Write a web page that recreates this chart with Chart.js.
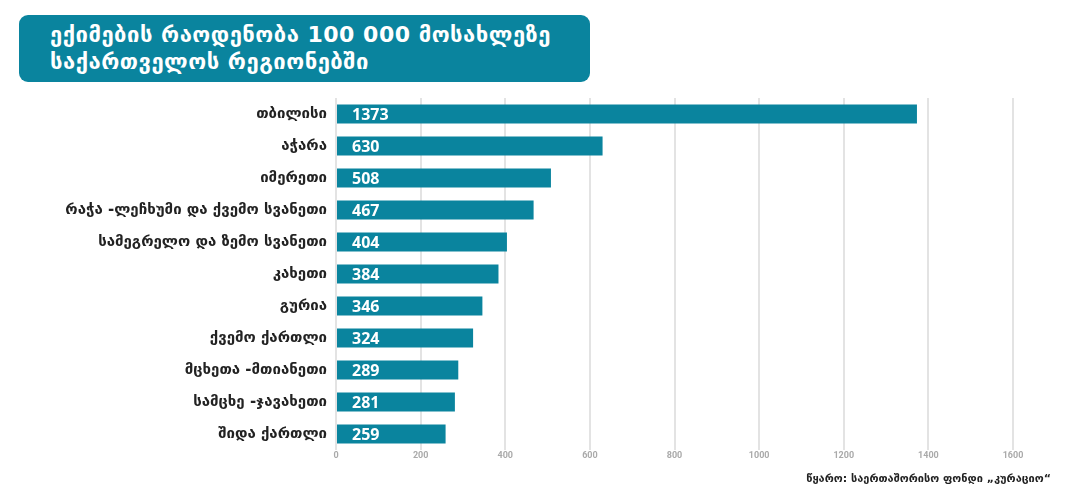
<!DOCTYPE html>
<html>
<head>
<meta charset="utf-8">
<script src="https://cdn.jsdelivr.net/npm/chart.js@4"></script>
<style>
  html, body { margin: 0; padding: 0; background: #fff; }
  #wrap { position: relative; width: 1067px; height: 500px; }
  #title {
    position: absolute; left: 19px; top: 15px; width: 571px; height: 67px;
    background: #0a849e; border-radius: 9px; color: #fff;
    font-family: "DejaVu Sans", sans-serif; font-weight: bold; font-size: 22px;
    line-height: 27px; padding: 6px 0 0 31px; box-sizing: border-box; letter-spacing: 0.5px;
  }
  #source {
    position: absolute; right: 16px; top: 472px;
    font-family: "DejaVu Sans", sans-serif; font-weight: bold; font-size: 11px; color: #222;
  }
</style>
</head>
<body>
<div id="wrap">
  <canvas id="myChart" width="1067" height="500"></canvas>
  <div id="title">ექიმების რაოდენობა 100 000 მოსახლეზე<br>საქართველოს რეგიონებში</div>
  <div id="source">წყარო: საერთაშორისო ფონდი „კურაციო“</div>
</div>
<script>
const regiones = ['თბილისი', 'აჭარა', 'იმერეთი', 'რაჭა -ლეჩხუმი და ქვემო სვანეთი', 'სამეგრელო და ზემო სვანეთი',
  'კახეთი', 'გურია', 'ქვემო ქართლი', 'მცხეთა -მთიანეთი', 'სამცხე -ჯავახეთი', 'შიდა ქართლი'];
const medicos = [1373, 630, 508, 467, 404, 384, 346, 324, 289, 281, 259];
const ticksX = [0, 200, 400, 600, 800, 1000, 1200, 1400, 1600];

const color = '#0a849e';

// numeros blancos dentro de las barras
const etiquetas = {
  id: 'etiquetas',
  afterDatasetsDraw(chart) {
    const ctx = chart.ctx;
    const meta = chart.getDatasetMeta(0);
    ctx.save();
    ctx.fillStyle = '#fff';
    ctx.font = 'bold 16px "Open Sans", sans-serif';
    ctx.textAlign = 'left';
    ctx.textBaseline = 'middle';
    meta.data.forEach((bar, i) => {
      ctx.fillText(medicos[i], bar.base + 15, bar.y + 1);
    });
    ctx.restore();
  }
};

const grafico = new Chart(document.getElementById('myChart'), {
  type: 'bar',
  data: {
    labels: regiones,
    datasets: [{
      data: medicos,
      backgroundColor: color,
      borderWidth: 0,
      categoryPercentage: 1,
      barPercentage: 0.6
    }]
  },
  options: {
    indexAxis: 'y',
    responsive: false,
    animation: false,
    layout: { padding: { top: 98, right: 54, bottom: 28, left: 0 } },
    plugins: { legend: { display: false }, tooltip: { enabled: false } },
    scales: {
      x: {
        min: 0,
        max: 1600,
        afterBuildTicks: s => { s.ticks = ticksX.map(v => ({ value: v })); },
        afterFit: s => { s.height = 22; },
        grid: { color: '#e3e3e3', lineWidth: 2, drawTicks: false },
        border: { display: false },
        ticks: {
          color: '#aaa', padding: 0,
          font: { family: 'Roboto', size: 9, weight: 'bold' },
          callback: v => String(v)
        }
      },
      y: {
        afterFit: s => { s.width = 336; },
        grid: { display: false, drawTicks: false },
        border: { display: false },
        ticks: { color: '#222', padding: 9, font: { family: 'DejaVu Sans', size: 15, weight: 'bold' } }
      }
    }
  },
  plugins: [etiquetas]
});
</script>
</body>
</html>
